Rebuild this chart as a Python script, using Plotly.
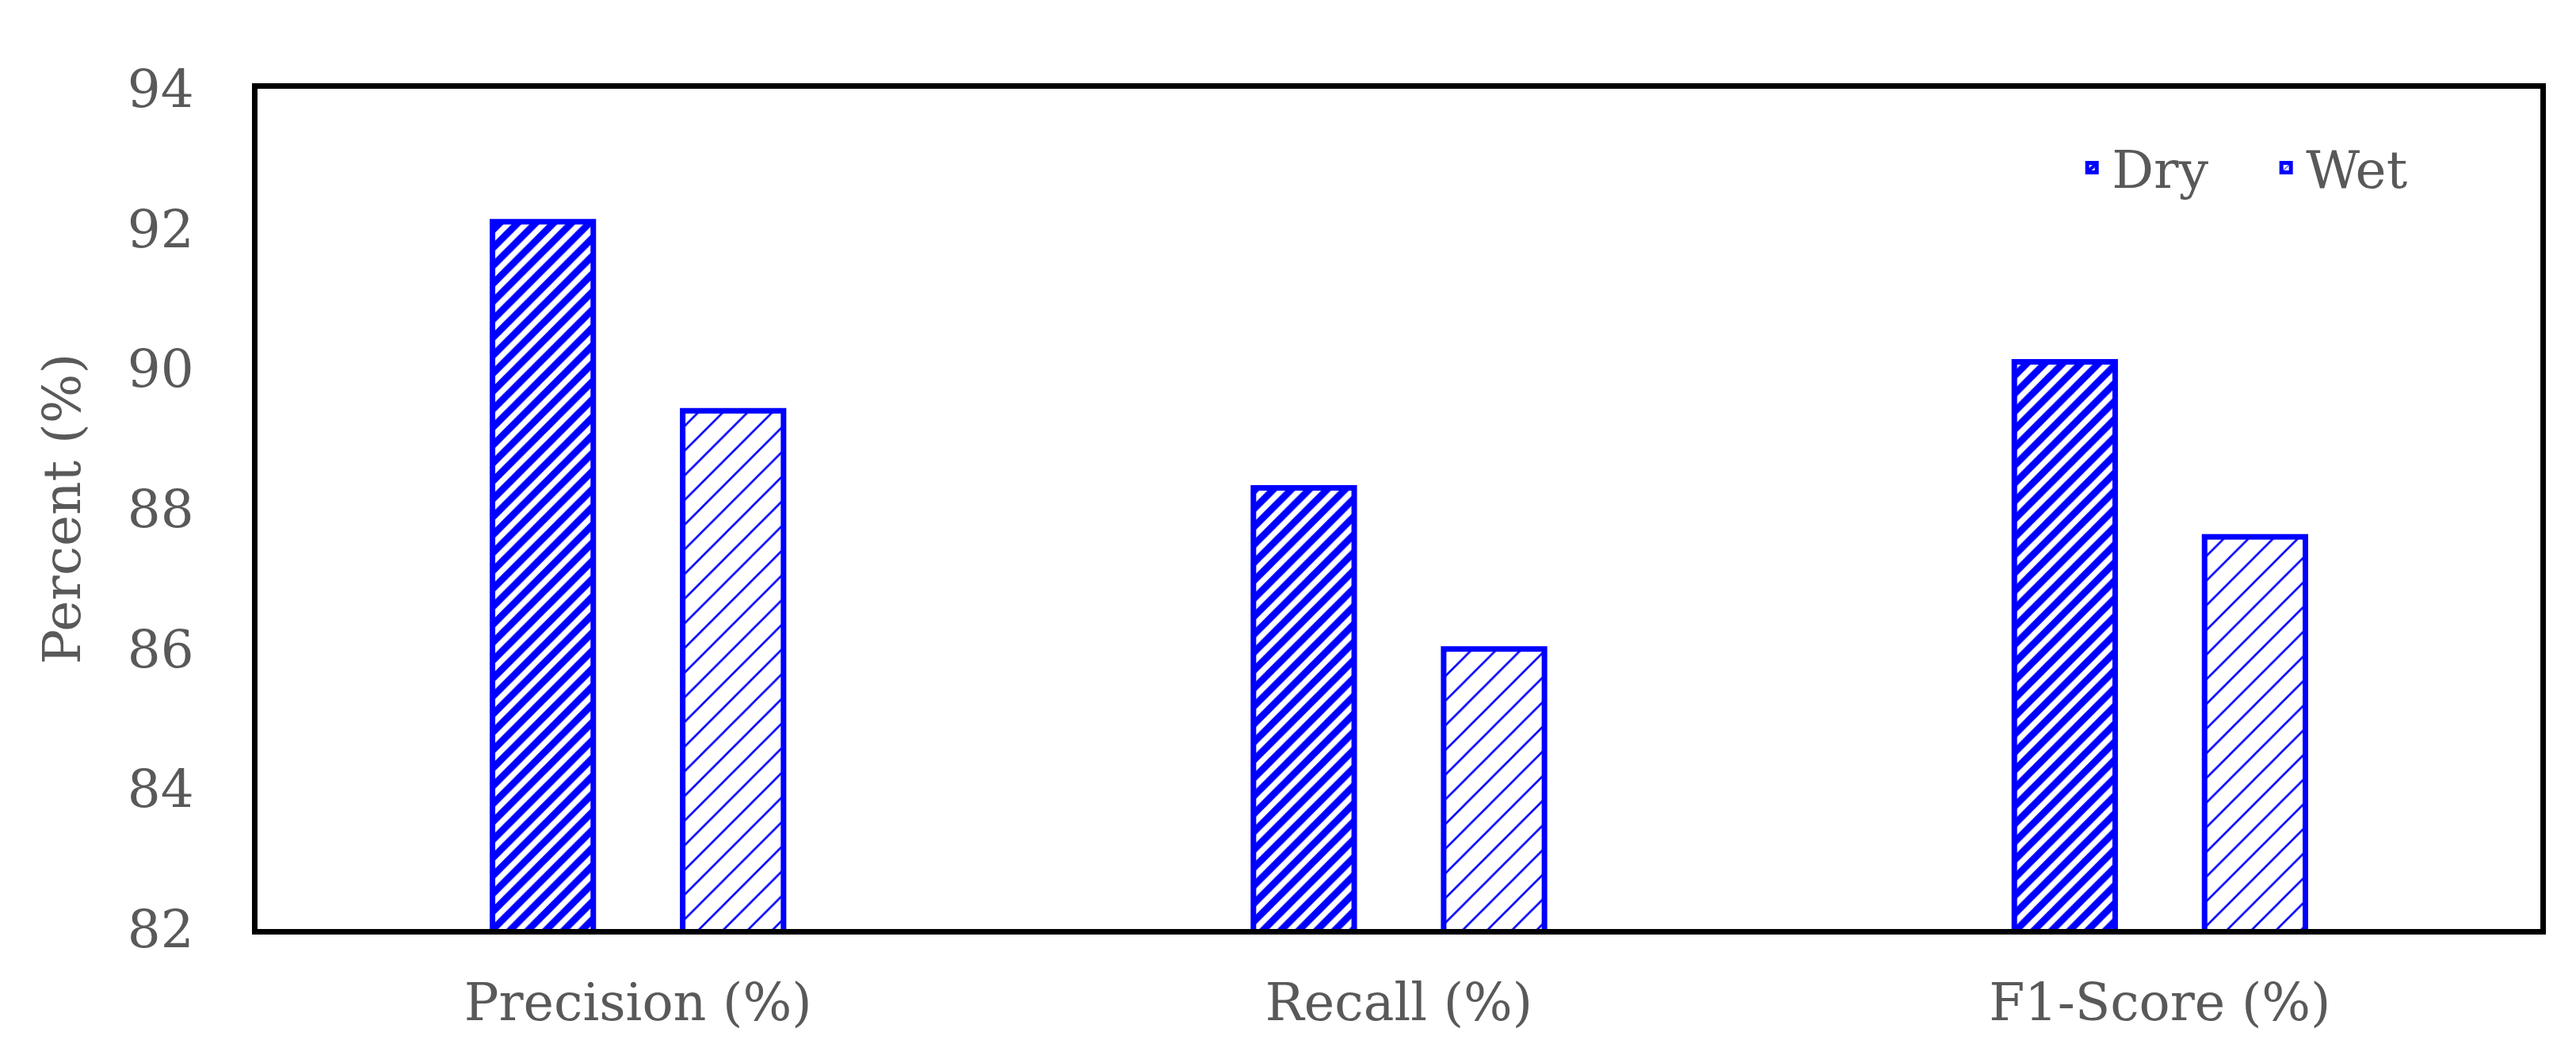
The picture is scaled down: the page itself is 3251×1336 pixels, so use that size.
import plotly.graph_objects as go

categories = ["Precision (%)", "Recall (%)", "F1-Score (%)"]
dry_values = [92.1, 88.3, 90.1]
wet_values = [89.4, 86.0, 87.6]
y_ticks = [82, 84, 86, 88, 90, 92, 94]

BLUE = "#0000FF"
TXT = "#595959"
FONT = "DejaVu Serif"

fig = go.Figure()
fig.add_trace(go.Bar(
    name="Dry", x=categories, y=dry_values,
    marker=dict(color="white", line=dict(color=BLUE, width=7),
                pattern=dict(shape="/", fgcolor=BLUE, bgcolor="white",
                             size=16, solidity=0.55, fillmode="replace")),
))
fig.add_trace(go.Bar(
    name="Wet", x=categories, y=wet_values,
    marker=dict(color="white", line=dict(color=BLUE, width=7),
                pattern=dict(shape="/", fgcolor=BLUE, bgcolor="white",
                             size=22, solidity=0.12, fillmode="replace")),
))

fig.update_layout(
    width=3251, height=1336,
    paper_bgcolor="white", plot_bgcolor="white",
    margin=dict(l=317, r=53, t=104, b=172, pad=0),
    barmode="group", bargap=0.5, bargroupgap=0.47,
    font=dict(family=FONT, size=64, color=TXT),
    legend=dict(orientation="h", x=0.965, xanchor="right", y=0.906, yanchor="middle",
                font=dict(family=FONT, size=66, color=TXT),
                bgcolor="rgba(0,0,0,0)", itemwidth=40,
                entrywidth=190, entrywidthmode="pixels"),
    xaxis=dict(showline=True, linecolor="black", linewidth=7, mirror=True,
               ticks="", ticklabelstandoff=30,
               tickfont=dict(family=FONT, size=65, color=TXT)),
    yaxis=dict(range=[82, 94], tickvals=y_ticks, showgrid=False, zeroline=False,
               showline=True, linecolor="black", linewidth=7, mirror=True,
               ticks="", ticklabelstandoff=60,
               tickfont=dict(family=FONT, size=66, color=TXT),
               title=dict(text="Percent (%)", standoff=40,
                          font=dict(family=FONT, size=66, color=TXT))),
)

fig.write_html("out.html")
